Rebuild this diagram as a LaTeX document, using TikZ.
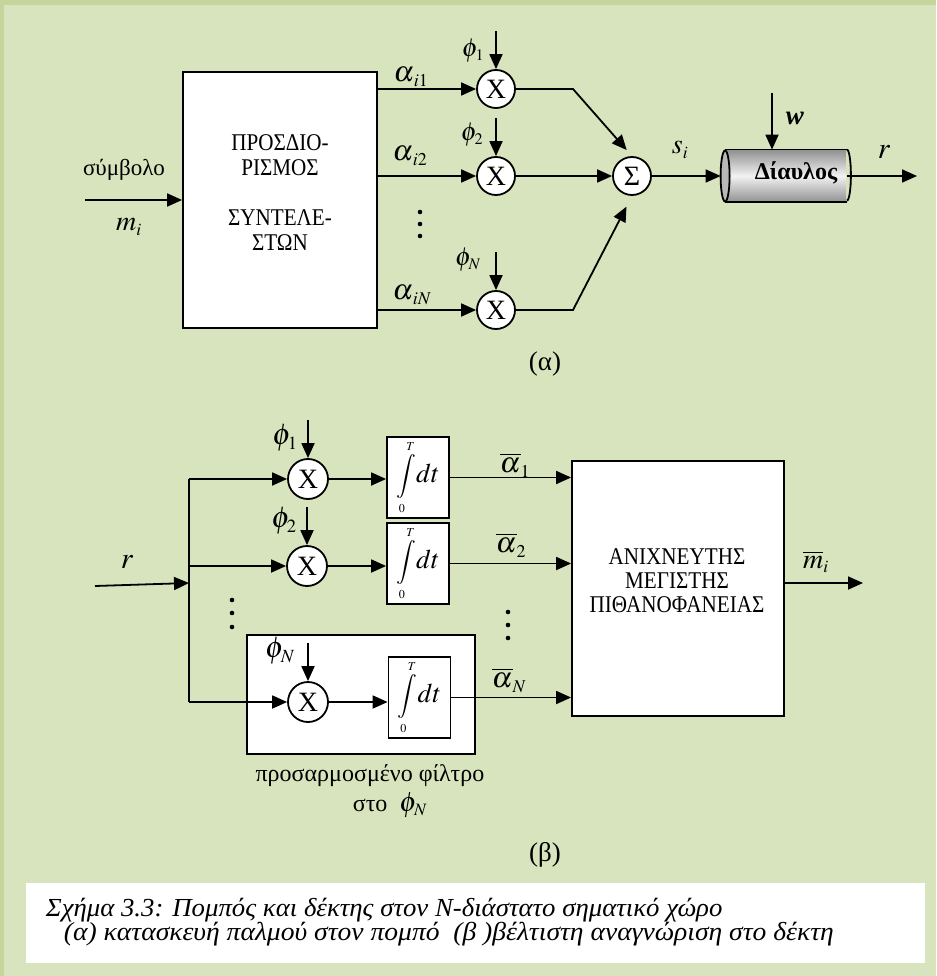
\documentclass[tikz,border=0pt]{standalone}
\usepackage{mathptmx}
\usepackage{fontspec}
\setmainfont{Liberation Serif}
\usetikzlibrary{arrows.meta}
\definecolor{bggreen}{RGB}{216,228,189}
\definecolor{edgegreen}{RGB}{196,214,155}
\renewcommand{\defaultscriptratio}{.62}
\renewcommand{\defaultscriptscriptratio}{.55}
\newcommand{\fs}[1]{\fontsize{#1}{#1}\selectfont}
\newcommand{\intdt}{{\fs{22}$\displaystyle\int\limits_{\scriptscriptstyle 0}^{\scriptscriptstyle T}$}{\fs{27}$dt$}}

\begin{document}
\begin{tikzpicture}[x=1pt,y=-1pt,>={Triangle[length=15pt,width=13pt]},line width=1.8pt,
  blk/.style={draw,fill=white,line width=1.8pt,inner sep=0pt},
  mult/.style={circle,draw,fill=white,line width=1.8pt,minimum size=38pt,inner sep=0pt,font=\fs{28}},
  intbox/.style={blk,minimum width=62pt,minimum height=81pt},
  caps/.style={font=\fontsize{24}{25}\selectfont,align=center,inner sep=0pt,xscale=0.88},
  txt/.style={font=\fs{23},align=center,inner sep=0pt},
  mth/.style={font=\fs{28},inner sep=0pt},
  alf/.style={font=\fs{29},inner sep=0pt},
  capt/.style={font=\fontsize{26}{26}\selectfont\itshape,anchor=west,inner sep=0pt,xscale=1.03},
  chanbody/.style={rectangle,minimum width=120pt,minimum height=51pt,inner sep=0pt,
    top color=gray!85,bottom color=gray!85,middle color=gray!10}]

% background
\fill[edgegreen] (0,0) rectangle (936,976);
\fill[bggreen] (4,5) rectangle (936,976);

% (a) transmitter
\node[blk,minimum width=194pt,minimum height=256pt] (coef) at (280,200) {};
\node[caps] (coeftxt) at (280,193) {ΠΡΟΣΔΙΟ-\\ΡΙΣΜΟΣ\\[25pt]ΣΥΝΤΕΛΕ-\\ΣΤΩΝ};
\coordinate (min) at (85,200);
\draw[->] (min) -- (coef.west);
\node[txt] (symb) at (124,170) {σύμβολο};
\node[mth] (mi) at (129,227) {$m_i$};

\node[mult] (x1) at (496,89) {X};
\node[mult] (x2) at (496,176) {X};
\node[mult] (xN) at (496,310) {X};
\foreach \n in {1,2,N} {
  \draw[->] (coef.east |- x\n) -- (x\n);
  \draw[->] (x\n.north) +(0,-38) -- (x\n.north);
}
\node[mth,font=\fs{26}] (ph1) at (473,51) {$\phi_1$};
\node[mth,font=\fs{26}] (ph2) at (472,135) {$\phi_2$};
\node[mth,font=\fs{26}] (phN) at (468,260) {$\phi_N$};
\node[alf] (a1) at (411,77) {$\alpha_{\,i1}$};
\node[alf] (a2) at (410,156) {$\alpha_{\,i2}$};
\node[alf] (aN) at (412,295) {$\alpha_{\,iN}$};
\foreach \y in {212,224,236} \fill (420,\y) circle (2.3pt);

\node[mult] (sum) at (632,176) {Σ};
\coordinate (k1) at (573,89);
\coordinate (kN) at (573,310);
\draw[->,shorten >=8pt] (x1) -- (k1) -- (sum.north);
\draw[->] (x2) -- (sum);
\draw[->,shorten >=12pt] (xN) -- (kN) -- (sum.south);

% channel
\node[chanbody] (chan) at (786,176) {};
\draw (chan.north west) -- (chan.north east);
\draw (chan.south west) -- (chan.south east);
\draw (chan.north east) arc[start angle=90,end angle=-90,x radius=4pt,y radius=25.5pt];
\draw[fill=gray!55] (chan.west) ellipse [x radius=4.5pt,y radius=25.5pt];
\node[font=\fs{24}\bfseries] (chantxt) at (796,173) {Δίαυλος};
\draw[->,shorten >=4.5pt] (sum) -- (chan.west);
\node[mth] (si) at (680,150) {$s_i$};
\coordinate (wtop) at (772,93);
\draw[->] (wtop) -- (wtop |- chan.north);
\node[mth,font=\fs{27}] (wl) at (795,118) {\textbf{\textit{w}}};
\coordinate (rout) at (917,176);
\draw[->] (chan.east) -- (rout);
\node[mth,font=\fs{30}] (rl) at (884,152) {$r$};
\node[font=\fs{27}] (capa) at (545,364) {(α)};

% (b) receiver
\coordinate (rin) at (95,586);
\coordinate (split) at (189,583);
\coordinate (b1) at (189,479);
\coordinate (b2) at (189,566);
\coordinate (bN) at (189,702);
\draw (b1) -- (bN);
\draw[->] (rin) -- (split);
\node[mth,font=\fs{30}] (rlb) at (127,562) {$r$};

\node[blk,minimum width=228pt,minimum height=119pt] (mf) at (361,694.5) {};
\node[mult,minimum size=40pt] (m1) at (308,479) {X};
\node[mult,minimum size=40pt] (m2) at (307,566) {X};
\node[mult,minimum size=40pt] (mN) at (308,702) {X};
\node[intbox] (i1) at (418,477.5) {\intdt};
\node[intbox] (i2) at (418,563.5) {\intdt};
\node[intbox] (iN) at (419.5,697.5) {\intdt};
\node[blk,minimum width=212pt,minimum height=255pt] (ml) at (678,588.5) {};
\node[caps,font=\fontsize{24}{24}\selectfont] (mltxt) at (677,581) {ΑΝΙΧΝΕΥΤΗΣ\\ΜΕΓΙΣΤΗΣ\\ΠΙΘΑΝΟΦΑΝΕΙΑΣ};
\foreach \n in {1,2,N} {
  \draw[->] (b\n) -- (m\n);
  \draw[->] (m\n.north) +(0,-38) -- (m\n.north);
  \draw[->] (m\n) -- (m\n -| i\n.west);
  \draw[->] (i\n.east) -- (i\n.east -| ml.west);
}
\node[mth,font=\fs{30}] (pb1) at (285,438) {$\phi_1$};
\node[mth,font=\fs{30}] (pb2) at (284,521) {$\phi_2$};
\node[mth,font=\fs{30}] (pbN) at (280,651) {$\phi_N$};
\node[alf] (ab1) at (515,465) {$\overline{\alpha}_1$};
\node[alf] (ab2) at (511,545) {$\overline{\alpha}_2$};
\node[alf] (abN) at (509,680) {$\overline{\alpha}_N$};
\foreach \y in {600,613,627} \fill (232,\y) circle (2.3pt);
\foreach \y in {612,625,638} \fill (508,\y) circle (2.3pt);
\coordinate (mout) at (863,583);
\draw[->] (ml.east |- mout) -- (mout);
\node[mth] (mhat) at (816,562) {$\overline{m}_i$};
\node[txt,font=\fs{24}] (mflbl) at (370,776) {προσαρμοσμένο φίλτρο};
\node[txt,font=\fs{24}] (mflbl2) at (390,805) {στο \ {\fs{28}$\phi_N$}};
\node[font=\fs{27}] (capb) at (545,855) {(β)};

% caption
\node[fill=white,minimum width=899pt,minimum height=80pt] (capbox) at (475.5,923) {};
\node[capt] (cap1) at (45,910)
  {Σχήμα 3.3: Πομπός και δέκτης στον N-διάστατο σηματικό χώρο};
\node[capt,xscale=1.03] (cap2) at (63,934)
  {(α) κατασκευή παλμού στον πομπό \ (β )βέλτιστη αναγνώριση στο δέκτη};
\end{tikzpicture}
\end{document}
